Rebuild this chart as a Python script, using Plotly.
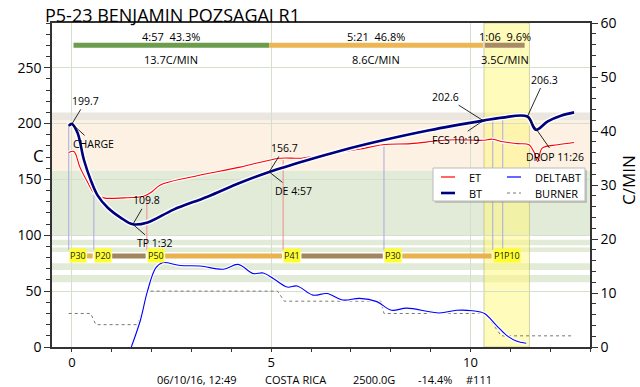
import plotly.graph_objects as go

# ---------------- data ----------------
bt_time = [-0.08, 0.0, 0.14, 0.3, 0.47, 0.64, 0.9, 1.23, 1.53, 1.9, 2.55, 3.4, 4.22, 4.95,
           5.9, 6.72, 7.8, 8.97, 10.32, 10.8, 11.43, 11.64, 11.94, 12.27, 12.6]
bt_temp = [198.0, 199.7, 191.7, 167.6, 149.6, 136.0, 124.6, 115.6, 109.8, 111.5, 123.0, 134.5, 147.0, 156.7,
           167.2, 175.5, 185.0, 194.0, 202.6, 205.3, 206.3, 194.4, 202.0, 207.0, 210.0]

et_time = [-0.08, 0.05, 0.2, 0.4, 0.55, 0.8, 1.3, 1.8, 1.97, 2.22, 2.97, 4.22, 5.22, 5.75, 6.47,
           7.2, 7.8, 8.5, 9.2, 9.65, 10.3, 10.55, 10.77, 11.18, 11.47, 11.6, 11.69, 11.8, 12.19, 12.6]
et_temp = [174.0, 175.0, 161.0, 147.0, 138.0, 133.5, 133.5, 135.0, 138.0, 145.0, 152.0, 161.0, 169.0, 169.0, 173.0,
           177.0, 181.0, 182.0, 184.6, 185.5, 185.0, 186.0, 184.0, 182.0, 181.0, 174.0, 166.0, 178.0, 181.0, 183.0]

ror_time = [1.49, 1.72, 1.89, 2.1, 2.27, 2.72, 3.22, 3.8, 4.17, 4.55, 4.8, 5.05, 5.4, 5.65, 6.05, 6.4,
            6.8, 7.22, 7.65, 8.02, 8.4, 9.22, 9.65, 10.05, 10.35, 10.65, 10.9, 11.15, 11.4]
ror_value = [0.0, 5.0, 10.2, 14.6, 15.6, 15.1, 15.0, 14.4, 15.3, 13.6, 13.7, 12.7, 11.1, 11.3, 9.6, 9.9,
             8.7, 9.0, 8.4, 6.8, 7.2, 6.3, 6.8, 6.7, 6.2, 4.0, 2.2, 1.1, 0.7]

burner_time = [-0.08, 0.47, 0.6, 1.65, 1.9, 5.16, 5.33, 7.75, 7.83, 10.38, 10.77, 12.6]
burner_value = [30, 30, 20, 20, 50, 50, 41, 41, 30, 30, 10, 10]

event_time = [-0.08, 0.55, 1.88, 5.3, 7.83, 10.56, 10.81]
event_top = [199.0, 136.0, 135.0, 169.0, 185.5, 205.0, 206.0]
event_curve = ["BT", "BT", "ET", "ET", "BT", "BT", "BT"]
event_label = ["P30", "P20", "P50", "P41", "P30", "P1", "P10"]

phase_start = [0.04, 4.95, 10.36]
phase_end = [4.95, 10.32, 11.36]
phase_time = ["4:57", "5:21", "1:06"]
phase_pct = ["43.3%", "46.8%", "9.6%"]
phase_rate = ["13.7C/MIN", "8.6C/MIN", "3.5C/MIN"]

charge_time, charge_temp = 0.0, 199.7
tp_time, tp_temp = 1.53, 109.8
de_time, de_temp = 4.95, 156.7
fcs_time, fcs_temp = 10.32, 202.6
drop_time, drop_temp = 11.43, 206.3

footer_items = ["06/10/16, 12:49", "COSTA RICA", "2500.0G", "-14.4%", "#111"]
title_text = "P5-23 BENJAMIN POZSAGAI R1"

# ---------------- styling ----------------
FONT = "Open Sans"
GREEN_BAND = "#e2eAd8"
ORANGE_BAND = "#fcf1e2"
GREY_BAND = "#ebe7e0"
PHASE_COLORS = ["#6b9d4d", "#ebb653", "#a88a66"]
BAR_COLORS = ["#e8b24e", "#a3855f", "#e8b24e", "#a3855f", "#e8b24e"]

fig = go.Figure()

# background bands
shapes = []
for y0, y1, c in [(100, 158, GREEN_BAND), (158, 203, ORANGE_BAND), (203, 210, GREY_BAND)]:
    shapes.append(dict(type="rect", xref="paper", x0=0, x1=1, yref="y", y0=y0, y1=y1,
                       fillcolor=c, line=dict(width=0), layer="below"))
for y0, y1 in [(91, 96), (85, 89), (69, 75), (58, 64.5)]:
    shapes.append(dict(type="rect", xref="paper", x0=0, x1=1, yref="y", y0=y0, y1=y1,
                       fillcolor=GREEN_BAND, line=dict(width=0), layer="below"))
# FC -> drop highlight
shapes.append(dict(type="rect", xref="x", x0=fcs_time + 0.02, x1=drop_time + 0.05, yref="paper", y0=0, y1=1,
                   fillcolor="rgba(255,248,120,0.5)", line=dict(width=1, color="rgba(190,190,140,0.7)"),
                   layer="below"))

# event connector lines
for t, top, src in zip(event_time, event_top, event_curve):
    col = "#a9a9e2" if src == "BT" else "#f08c8c"
    fig.add_trace(go.Scatter(x=[t, t], y=[top, 87], mode="lines",
                             line=dict(color=col, width=1), hoverinfo="skip"))

# burner bars between event labels
for i in range(len(event_time) - 2):
    x0 = event_time[i] + 0.46
    x1 = event_time[i + 1] - 0.03
    fig.add_trace(go.Scatter(x=[x0, x1], y=[81.5, 81.5], mode="lines",
                             line=dict(color=BAR_COLORS[i], width=5), hoverinfo="skip"))

# phase bars on top
for s, e, c in zip(phase_start, phase_end, PHASE_COLORS):
    fig.add_trace(go.Scatter(x=[s, e], y=[270, 270], mode="lines",
                             line=dict(color=c, width=5), hoverinfo="skip"))

# RoR
fig.add_trace(go.Scatter(x=ror_time, y=ror_value, yaxis="y2", mode="lines",
                         line=dict(color="white", width=3.5, shape="spline"), hoverinfo="skip"))
fig.add_trace(go.Scatter(x=ror_time, y=ror_value, yaxis="y2", mode="lines", name="DELTABT",
                         line=dict(color="#0000ff", width=1.1, shape="spline")))
# burner
fig.add_trace(go.Scatter(x=burner_time, y=burner_value, mode="lines", name="BURNER",
                         line=dict(color="#777777", width=1, dash="dot")))
# ET
fig.add_trace(go.Scatter(x=et_time, y=et_temp, mode="lines",
                         line=dict(color="white", width=3.5, shape="spline"), hoverinfo="skip"))
fig.add_trace(go.Scatter(x=et_time, y=et_temp, mode="lines", name="ET",
                         line=dict(color="#ff0000", width=1.1, shape="spline")))
# BT
fig.add_trace(go.Scatter(x=bt_time, y=bt_temp, mode="lines",
                         line=dict(color="white", width=5.5, shape="spline"), hoverinfo="skip"))
fig.add_trace(go.Scatter(x=bt_time, y=bt_temp, mode="lines", name="BT",
                         line=dict(color="#00007f", width=2.6, shape="spline")))

ann = []


def note(x, y, text, ax, ay):
    ann.append(dict(x=x, y=y, xref="x", yref="y", text=text, showarrow=True, arrowhead=0,
                    arrowwidth=0.9, arrowcolor="#111", ax=ax, ay=ay, standoff=0,
                    font=dict(size=10.5, family=FONT, color="black")))


note(charge_time, charge_temp, f"{charge_temp}", 14, -23)
note(charge_time, charge_temp, "CHARGE", 22, 20)
note(tp_time, tp_temp, f"{tp_temp}", 14, -24)
note(tp_time, tp_temp, "TP 1:32", 22, 19)
note(de_time, de_temp, f"{de_temp}", 15, -24)
note(de_time, de_temp, "DE 4:57", 24, 19)
note(fcs_time, fcs_temp, f"{fcs_temp}", -38, -24)
note(fcs_time, fcs_temp, "FCS 10:19", -28, 19)
note(drop_time, drop_temp, f"{drop_temp}", 17, -37)
note(drop_time, drop_temp, "DROP 11:26", 28, 40)

# event labels
for t, lab in zip(event_time, event_label):
    ann.append(dict(x=t, y=81.5, xref="x", yref="y", text=lab, showarrow=False, xanchor="left",
                    bgcolor="#ffff30", borderpad=0, font=dict(size=9, family=FONT, color="#222")))

# phase texts
for s, e, tt, pc, rt in zip(phase_start, phase_end, phase_time, phase_pct, phase_rate):
    mid = (s + e) / 2
    ann.append(dict(x=mid, y=278, xref="x", yref="y", text=f"{tt}&nbsp;&nbsp;{pc}", showarrow=False,
                    xanchor="center", font=dict(size=11, family=FONT, color="black")))
    ann.append(dict(x=mid, y=257, xref="x", yref="y", text=rt, showarrow=False,
                    xanchor="center", font=dict(size=11, family=FONT, color="black")))


def px(xp):
    return (xp - 52) / 538


def py(yp):
    return (347 - yp) / 324


# title and axis titles
ann.append(dict(x=px(43), y=py(1), xref="paper", yref="paper", text=title_text, showarrow=False,
                xanchor="left", yanchor="top", font=dict(size=18, family=FONT, color="black")))
ann.append(dict(x=px(38), y=py(155), xref="paper", yref="paper", text="C", showarrow=False,
                xanchor="center", yanchor="middle", font=dict(size=17, family=FONT, color="black")))
ann.append(dict(x=px(628), y=py(180), xref="paper", yref="paper", text="C/MIN", showarrow=False,
                xanchor="center", yanchor="middle", textangle=-90,
                font=dict(size=17, family=FONT, color="black")))

# footer
for cx, txt in zip([197, 295, 374, 435, 479], footer_items):
    ann.append(dict(x=px(cx), y=py(379), xref="paper", yref="paper", text=txt, showarrow=False,
                    xanchor="center", yanchor="middle", font=dict(size=11, family=FONT, color="black")))

# manual legend
shapes.append(dict(type="rect", xref="paper", yref="paper", x0=px(435), x1=px(587), y0=py(203), y1=py(170),
                   fillcolor="rgba(120,120,120,0.35)", line=dict(width=0), layer="above"))
shapes.append(dict(type="rect", xref="paper", yref="paper", x0=px(433), x1=px(585), y0=py(201), y1=py(168),
                   fillcolor="white", line=dict(width=1, color="#bbbbbb"), layer="above"))
legend_items = [("ET", "#ff0000", 1.2, "solid", 441, 177), ("DELTABT", "#0000ff", 1.2, "solid", 507, 177),
                ("BT", "#00007f", 2.6, "solid", 441, 193), ("BURNER", "#777777", 1, "dot", 507, 193)]
for name, col, w, dash, lx, ly in legend_items:
    shapes.append(dict(type="line", xref="paper", yref="paper", x0=px(lx), x1=px(lx + 14), y0=py(ly), y1=py(ly),
                       line=dict(color=col, width=w, dash=dash), layer="above"))
    ann.append(dict(x=px(lx + 26), y=py(ly), xref="paper", yref="paper", text=name, showarrow=False,
                    xanchor="left", yanchor="middle", font=dict(size=11, family=FONT, color="black")))

axis_common = dict(showline=True, linecolor="#333333", linewidth=1.5, ticks="outside",
                   tickwidth=1.2, tickcolor="#333333", zeroline=False)

fig.update_layout(
    width=640, height=387, margin=dict(l=52, r=50, t=23, b=40, autoexpand=False),
    plot_bgcolor="white", paper_bgcolor="white", showlegend=False,
    font=dict(family=FONT, color="black"),
    xaxis=dict(range=[-0.5, 13], tickvals=[0, 5, 10], mirror=True, showgrid=True, gridcolor="#d5e0cc",
               ticklen=3, tickfont=dict(size=13, family=FONT),
               minor=dict(dtick=1, tick0=0, ticks="outside", ticklen=3, tickcolor="#333333"), **axis_common),
    yaxis=dict(range=[0, 290], tickvals=[0, 50, 100, 150, 200, 250], showgrid=True, gridcolor="#d5e0cc",
               ticklen=6, tickfont=dict(size=14, family=FONT),
               minor=dict(dtick=10, tick0=0, ticks="outside", ticklen=4, tickcolor="#333333"), **axis_common),
    yaxis2=dict(range=[0, 60], overlaying="y", side="right", dtick=10, showgrid=False,
                ticklen=6, tickfont=dict(size=14, family=FONT),
                minor=dict(dtick=2, tick0=0, ticks="outside", ticklen=4, tickcolor="#333333"), **axis_common),
    shapes=shapes, annotations=ann,
)

fig.write_html("out.html", config={"displayModeBar": False},
               post_script="document.body.style.margin='0px';document.body.style.overflow='hidden';")
